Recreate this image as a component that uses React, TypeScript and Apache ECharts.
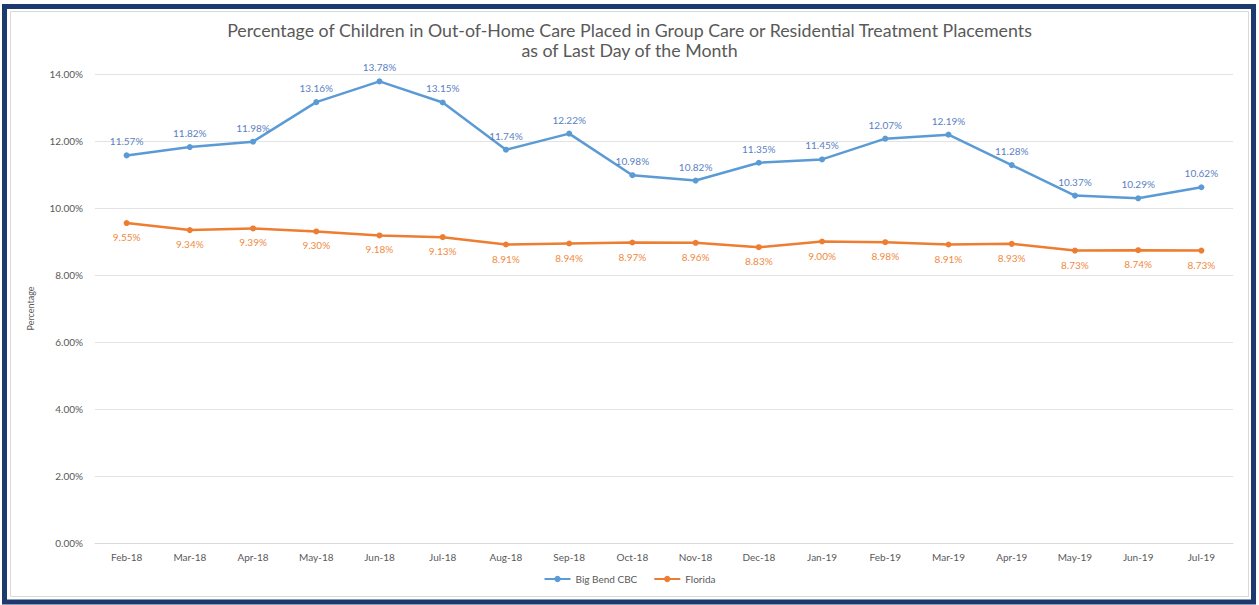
import React, { useEffect, useRef } from "react";
import * as echarts from "echarts";

const months = ["Feb-18","Mar-18","Apr-18","May-18","Jun-18","Jul-18","Aug-18","Sep-18","Oct-18","Nov-18","Dec-18","Jan-19","Feb-19","Mar-19","Apr-19","May-19","Jun-19","Jul-19"];
const bigBend = [11.57,11.82,11.98,13.16,13.78,13.15,11.74,12.22,10.98,10.82,11.35,11.45,12.07,12.19,11.28,10.37,10.29,10.62];
const florida = [9.55,9.34,9.39,9.30,9.18,9.13,8.91,8.94,8.97,8.96,8.83,9.00,8.98,8.91,8.93,8.73,8.74,8.73];
const titleText = "Percentage of Children in Out-of-Home Care Placed in Group Care or Residential Treatment Placements\nas of Last Day of the Month";

const FONT = "Lato, 'Open Sans', sans-serif";

export default function App() {
  const ref = useRef<HTMLDivElement>(null);
  useEffect(() => {
    if (!ref.current) return;
    const chart = echarts.init(ref.current, undefined, { renderer: "svg" });
    const fmt = (v: number) => v.toFixed(2) + "%";
    chart.setOption({
      animation: false,
      backgroundColor: "#ffffff",
      textStyle: { fontFamily: FONT },
      title: {
        text: titleText,
        left: "center",
        top: 15,
        textStyle: { fontSize: 17.8, fontWeight: "normal", color: "#595959", lineHeight: 20, fontFamily: FONT },
      },
      legend: {
        bottom: 16,
        left: "center",
        itemWidth: 26,
        itemHeight: 8,
        itemGap: 16,
        textStyle: { fontSize: 10, color: "#595959", fontFamily: FONT },
        data: ["Big Bend CBC", "Florida"],
      },
      grid: { left: 95, right: 26, top: 74, bottom: 62, containLabel: false },
      xAxis: {
        type: "category",
        data: months,
        boundaryGap: true,
        axisLine: { lineStyle: { color: "#d9d9d9", width: 1 } },
        axisTick: { show: false },
        axisLabel: { fontSize: 10, color: "#595959", margin: 9, fontFamily: FONT },
      },
      yAxis: {
        type: "value",
        min: 0,
        max: 14,
        interval: 2,
        name: "Percentage",
        nameLocation: "middle",
        nameGap: 60,
        nameTextStyle: { fontSize: 9, color: "#595959", fontFamily: FONT },
        axisLine: { show: false },
        axisTick: { show: false },
        axisLabel: { fontSize: 10, color: "#595959", margin: 12, formatter: (v: number) => fmt(v), fontFamily: FONT },
        splitLine: { lineStyle: { color: "#e3e3e3", width: 1 } },
      },
      series: [
        {
          name: "Big Bend CBC",
          type: "line",
          data: bigBend,
          color: "#5b9bd5",
          symbol: "circle",
          symbolSize: 6,
          lineStyle: { width: 2.5, color: "#5b9bd5" },
          itemStyle: { color: "#5b9bd5" },
          label: { show: true, position: "top", distance: 6, fontSize: 10, color: "#5a7fc4", formatter: (p: any) => fmt(p.value), fontFamily: FONT },
        },
        {
          name: "Florida",
          type: "line",
          data: florida,
          color: "#ed7d31",
          symbol: "circle",
          symbolSize: 6,
          lineStyle: { width: 2.5, color: "#ed7d31" },
          itemStyle: { color: "#ed7d31" },
          label: { show: true, position: "bottom", distance: 6, fontSize: 10, color: "#ef8a42", formatter: (p: any) => fmt(p.value), fontFamily: FONT },
        },
      ],
      graphic: [
        { type: "rect", silent: true, z: 100, shape: { x: 10.5, y: 11.5, width: 1238, height: 585 }, style: { fill: "none", stroke: "#d9d9d9", lineWidth: 1 } },
        { type: "rect", silent: true, z: 100, shape: { x: 4.5, y: 6.5, width: 1249, height: 595.5 }, style: { fill: "none", stroke: "#1c3a6e", lineWidth: 5 } },
      ],
    });
    return () => chart.dispose();
  }, []);
  return <div ref={ref} style={{ position: "fixed", left: 0, top: 0, width: 1259, height: 605, background: "#fff" }} />;
}
